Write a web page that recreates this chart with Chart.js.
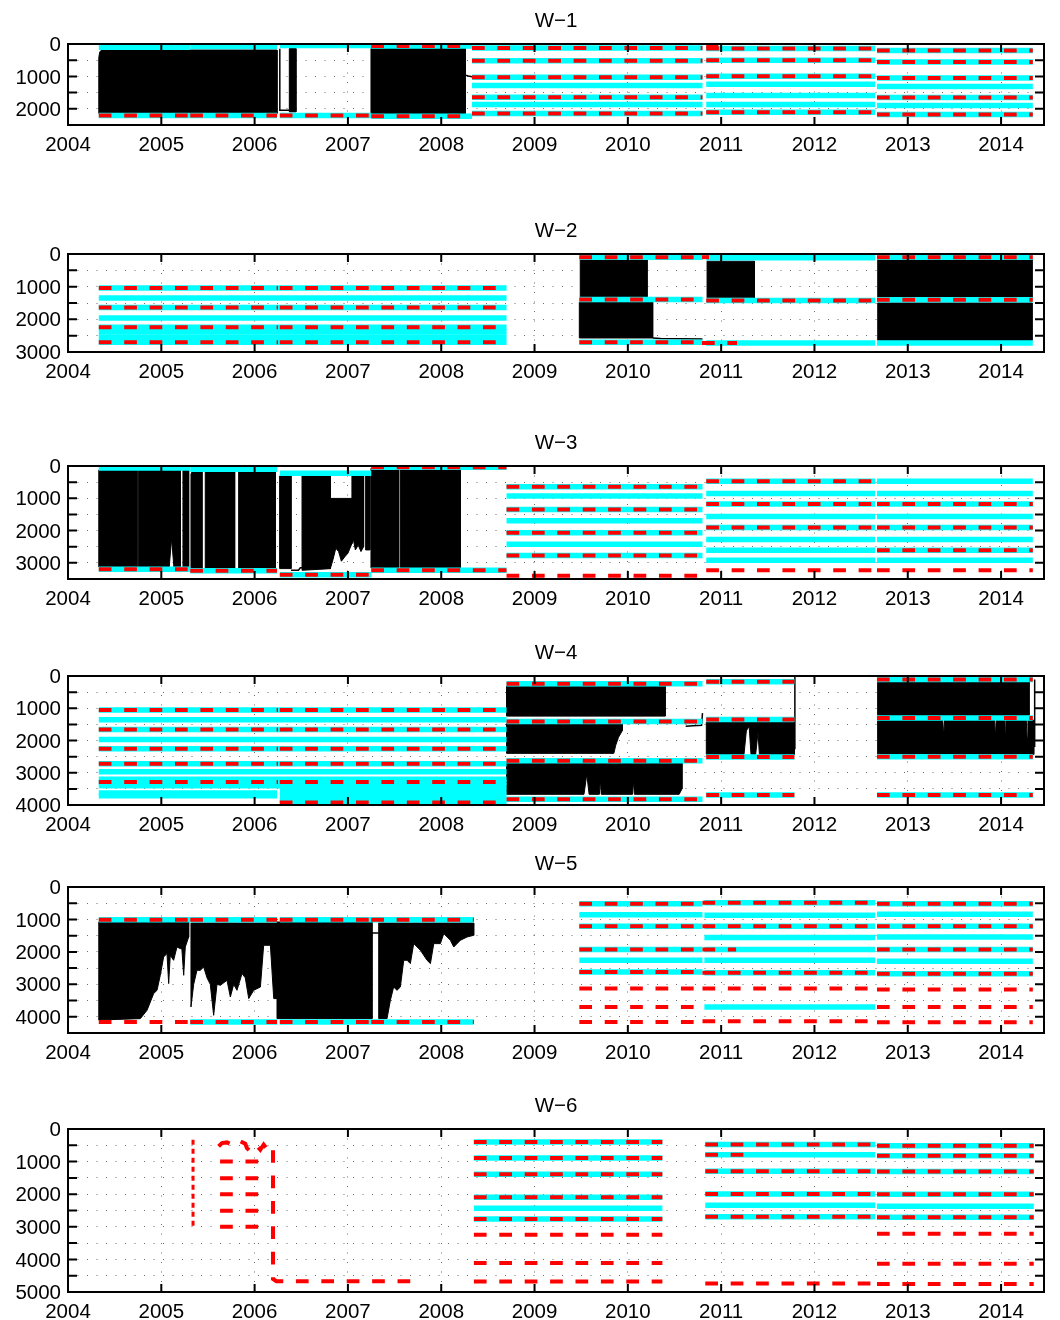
<!DOCTYPE html>
<html><head><meta charset="utf-8">
<script src="https://cdn.jsdelivr.net/npm/chart.js"></script>
<style>
html,body{margin:0;padding:0;background:#fff;}
body{width:1060px;height:1320px;position:relative;overflow:hidden;}
canvas{position:absolute;left:0;}
</style>
</head><body>
<script>
// ---------------- data ----------------
const TITLES = ['W\u22121','W\u22122','W\u22123','W\u22124','W\u22125','W\u22126'];
const YEAR_TICKS = [2004,2005,2006,2007,2008,2009,2010,2011,2012,2013,2014];
const X_MIN = 2004, X_MAX = 2014.46;
const DEPTH_MAX = [2500,3000,3500,4000,4500,5000];
const DEPTH_STEP = 500;

// segments: [startYear, endYear, depth]
const W1_CYAN = [
  [2004.33,2005.31,100],[2005.31,2006.24,80],[2006.27,2007.25,50],[2007.25,2008.33,60],
  [2004.33,2005.31,2208],[2005.31,2006.24,2208],[2006.27,2007.25,2208],[2007.25,2008.33,2228],
  [2008.33,2010.80,120],[2008.33,2010.80,520],[2008.33,2010.80,1025],[2008.33,2010.80,1281],
  [2008.33,2010.80,1642],[2008.33,2010.80,1868],[2008.33,2010.80,2145],
  [2010.84,2012.65,140],[2010.84,2012.65,500],[2010.84,2012.65,994],[2010.84,2012.65,1240],
  [2010.84,2012.65,1590],[2010.84,2012.65,1868],[2010.84,2012.65,2105],
  [2012.67,2014.34,200],[2012.67,2014.34,552],[2012.67,2014.34,1046],[2012.67,2014.34,1312],
  [2012.67,2014.34,1652],[2012.67,2014.34,1898],[2012.67,2014.34,2176]
];
const W1_RED = [
  [2007.25,2008.33,60],
  [2004.33,2005.31,2208],[2005.31,2006.24,2208],[2006.27,2007.25,2208],[2007.25,2008.33,2228],
  [2008.33,2010.80,120],[2008.33,2010.80,520],[2008.33,2010.80,1025],[2008.33,2010.80,1642],[2008.33,2010.80,2145],
  [2010.84,2010.97,50],
  [2010.84,2012.65,140],[2010.84,2012.65,500],[2010.84,2012.65,994],[2010.84,2012.65,2105],
  [2012.67,2014.34,200],[2012.67,2014.34,552],[2012.67,2014.34,1046],[2012.67,2014.34,1652],[2012.67,2014.34,2176]
];
// black filled records: polygons of [year, depth]
const W1_BLACK = [
  [[2004.33,2145],[2004.33,420],[2004.34,250],[2004.36,185],[2006.24,185],[2006.24,2145]],
  [[2006.372,2095],[2006.372,140],[2006.443,140],[2006.443,2095]],
  [[2007.247,2145],[2007.247,140],[2008.258,140],[2008.258,2145]]
];
const W1_TRACE = [
  [[2006.27,150],[2006.27,2046],[2006.372,2046]],
  [[2008.258,960],[2008.29,990],[2008.33,1010]]
];

const W2_CYAN = [
  [2004.33,2008.70,1037],[2004.33,2008.70,1344],[2004.33,2008.70,1641],[2004.33,2008.70,1957],
  [2004.33,2008.70,2240],[2004.33,2008.70,2390],[2004.33,2008.70,2545],[2004.33,2008.70,2700],
  [2009.48,2010.80,97],[2009.48,2010.80,1395],[2009.48,2010.80,2705],
  [2010.84,2012.65,117],[2010.84,2012.65,1426],[2010.84,2012.65,2725],
  [2012.67,2014.34,97],[2012.67,2014.34,1400],[2012.67,2014.34,2725]
];
const W2_RED = [
  [2004.33,2006.25,1037],[2006.27,2008.70,1037],[2004.33,2006.25,1641],[2006.27,2008.70,1641],
  [2004.33,2006.25,2245],[2006.27,2008.70,2245],[2004.33,2006.25,2705],[2006.27,2008.70,2705],
  [2009.48,2010.80,97],[2009.48,2010.80,1395],[2009.48,2010.80,2705],
  [2010.795,2010.87,97],[2010.84,2012.65,1426],[2010.795,2011.17,2725],
  [2012.67,2014.34,97],[2012.67,2014.34,1400]
];
const W2_BLACK = [
  [[2009.49,1313],[2009.49,170],[2010.206,170],[2010.206,1313]],
  [[2009.48,2571],[2009.48,1478],[2010.266,1478],[2010.266,2571]],
  [[2010.849,1343],[2010.849,220],[2011.356,220],[2011.356,1343]],
  [[2012.678,1343],[2012.678,169],[2014.332,169],[2014.332,1343]],
  [[2012.678,2644],[2012.678,1497],[2014.332,1497],[2014.332,2644]]
];
const W2_TRACE = [
  [[2010.266,2571],[2010.35,2590],[2010.80,2600]]
];

const W3_CYAN = [
  [2004.33,2005.31,62],[2005.31,2006.24,103],[2006.27,2007.25,228],[2007.25,2008.70,41],
  [2004.33,2005.31,3199],[2005.31,2006.24,3241],[2006.27,2007.25,3365],[2007.25,2008.70,3230],
  [2008.70,2010.80,642],[2008.70,2010.80,932],[2008.70,2010.80,1345],[2008.70,2010.80,1698],
  [2008.70,2010.80,2071],[2008.70,2010.80,2423],[2008.70,2010.80,2774],
  [2010.84,2012.65,476],[2010.84,2012.65,849],[2010.84,2012.65,1180],[2010.84,2012.65,1562],
  [2010.84,2012.65,1904],[2010.84,2012.65,2277],[2010.84,2012.65,2609],[2010.84,2012.65,2920],
  [2012.67,2014.34,476],[2012.67,2014.34,849],[2012.67,2014.34,1180],[2012.67,2014.34,1562],
  [2012.67,2014.34,1904],[2012.67,2014.34,2277],[2012.67,2014.34,2609],[2012.67,2014.34,2920]
];
const W3_RED = [
  [2004.33,2005.31,3199],[2005.31,2006.24,3241],[2006.27,2007.25,3365],[2007.25,2008.70,41],[2007.25,2008.70,3230],
  [2008.70,2010.80,642],[2008.70,2010.80,1345],[2008.70,2010.80,2071],[2008.70,2010.80,2774],[2008.70,2010.80,3396],
  [2010.84,2012.65,476],[2010.84,2012.65,1180],[2010.84,2012.65,1904],[2010.84,2012.65,3230],
  [2012.67,2014.34,1180],[2012.67,2014.34,1904],[2012.67,2014.34,2609],[2012.67,2014.34,3230]
];
const W3_BLACK = [
  [[2004.33,3127],[2004.33,124],[2004.74,124],[2004.74,3127]],
  [[2004.757,3127],[2004.757,124],[2005.204,124],[2005.204,3127],[2005.135,3127],[2005.11,2250],[2005.085,3127]],
  [[2005.232,3127],[2005.232,124],[2005.293,124],[2005.293,3127]],
  [[2005.318,3158],[2005.318,250],[2005.33,176],[2005.436,176],[2005.436,3158]],
  [[2005.471,3158],[2005.471,176],[2005.786,176],[2005.786,3158]],
  [[2005.829,3158],[2005.829,176],[2006.222,176],[2006.222,3158]],
  [[2006.268,3178],[2006.268,311],[2006.39,311],[2006.39,3178]],
  [[2006.508,3230],[2006.508,280],[2006.811,280],[2006.811,3180]],
  [[2006.811,1004],[2007.043,1004],[2007.043,2400],[2007.00,2700],[2006.97,2800],[2006.93,2950],[2006.90,2650],[2006.87,2550],[2006.84,2900],[2006.811,3180]],
  [[2007.043,280],[2007.168,280],[2007.168,2500],[2007.14,2650],[2007.11,2450],[2007.08,2600],[2007.06,2300],[2007.043,2400]],
  [[2007.19,300],[2007.235,300],[2007.235,2600],[2007.19,2600]],
  [[2007.247,3158],[2007.247,72],[2007.544,72],[2007.544,3158]],
  [[2007.562,3158],[2007.562,72],[2008.205,72],[2008.205,3158]]
];
const W3_TRACE = [
  [[2006.39,3230],[2006.47,3230],[2006.49,3150],[2006.508,3150]]
];

const W4_CYAN = [
  [2004.33,2008.70,1058],[2004.33,2008.70,1357],[2004.33,2008.70,1656],[2004.33,2008.70,1966],
  [2004.33,2008.70,2254],[2004.33,2008.70,2718],[2004.33,2008.70,2966],[2004.33,2008.70,3200],
  [2004.33,2008.70,3300],[2004.33,2008.70,3400],
  [2004.33,2006.24,3630],[2004.33,2006.24,3710],
  [2006.27,2008.70,3550],[2006.27,2008.70,3700],[2006.27,2008.70,3850],[2006.27,2008.70,3930],
  [2008.70,2010.80,243],[2008.70,2010.80,1409],[2008.70,2010.80,2626],[2008.70,2010.80,3823],
  [2010.84,2011.785,180],[2010.84,2011.785,1347],[2010.84,2011.785,2514],[2010.84,2011.785,3690],
  [2012.67,2014.34,108],[2012.67,2014.34,1306],[2012.67,2014.34,2502],[2012.67,2014.34,3690]
];
const W4_RED = [
  [2004.33,2006.25,1058],[2006.27,2008.70,1058],[2004.33,2006.25,1656],[2006.27,2008.70,1656],
  [2004.33,2006.25,2254],[2006.27,2008.70,2254],[2004.33,2006.25,2718],[2006.27,2008.70,2718],
  [2004.33,2006.25,3288],[2006.27,2008.70,3288],[2006.27,2008.70,3926],
  [2008.70,2010.80,243],[2008.70,2010.80,1409],[2008.70,2010.80,2626],[2008.70,2010.80,3823],
  [2010.84,2011.785,180],[2010.84,2011.785,1347],[2010.84,2011.785,2514],[2010.84,2011.785,3690],
  [2012.67,2014.34,108],[2012.67,2014.34,1306],[2012.67,2014.34,2502],[2012.67,2014.34,3690]
];
const W4_BLACK = [
  [[2008.70,1244],[2008.70,315],[2010.40,315],[2010.40,1244]],
  [[2008.70,2399],[2008.70,1471],[2009.94,1471],[2009.94,1700],[2009.90,1900],[2009.87,2150],[2009.85,2399]],
  [[2008.70,2688],[2010.58,2688],[2010.58,3500],[2010.55,3669],[2010.07,3669],[2010.06,3250],[2010.05,3669],
   [2009.715,3669],[2009.705,3200],[2009.695,3669],[2009.585,3669],[2009.56,3050],[2009.53,3669],[2008.70,3669]],
  [[2010.841,1430],[2011.785,1430],[2011.785,2430],[2011.41,2430],[2011.395,1750],[2011.37,2430],[2011.32,2430],
   [2011.30,1560],[2011.27,1700],[2011.245,2430],[2010.841,2430]],
  [[2012.677,180],[2014.30,180],[2014.30,1223],[2012.677,1223]],
  [[2012.677,1368],[2013.375,1368],[2013.385,1850],[2013.395,1368],[2013.70,1368],[2013.706,1800],[2013.712,1368],
   [2013.93,1368],[2013.939,1900],[2013.948,1368],[2014.04,1368],[2014.046,1800],[2014.052,1368],[2014.27,1368],
   [2014.279,1900],[2014.288,1368],[2014.35,1368],[2014.35,2430],[2012.677,2430]]
];
const W4_TRACE = [
  [[2011.79,0],[2011.79,2270]],
  [[2014.36,108],[2014.36,2200]],
  [[2010.62,1560],[2010.70,1545],[2010.79,1530],[2010.80,1150]]
];

const W5_CYAN = [
  [2004.33,2005.31,1006],[2005.31,2006.24,1006],[2006.27,2007.25,1006],[2007.25,2008.35,1006],
  [2005.31,2006.24,4160],[2006.27,2007.25,4160],[2007.25,2008.35,4160],
  [2009.48,2010.80,513],[2009.48,2010.80,852],[2009.48,2010.80,1211],[2009.48,2010.80,1930],
  [2009.48,2010.80,2259],[2009.48,2010.80,2620],
  [2010.82,2012.65,483],[2010.82,2012.65,872],[2010.82,2012.65,1211],[2010.82,2012.65,1560],
  [2010.82,2012.65,1930],[2010.82,2012.65,2259],[2010.82,2012.65,2640],[2010.82,2012.65,3698],
  [2012.67,2014.34,513],[2012.67,2014.34,842],[2012.67,2014.34,1211],[2012.67,2014.34,1540],
  [2012.67,2014.34,1930],[2012.67,2014.34,2290],[2012.67,2014.34,2670]
];
const W5_RED = [
  [2004.33,2005.31,1006],[2005.31,2006.24,1006],[2006.27,2007.25,1006],[2007.25,2008.35,1006],
  [2004.33,2005.31,4160],[2005.31,2006.24,4160],[2006.27,2007.25,4160],[2007.25,2008.35,4160],
  [2009.48,2010.80,513],[2009.48,2010.80,1211],[2009.48,2010.80,1930],[2009.48,2010.80,2620],
  [2009.48,2010.80,3132],[2009.48,2010.80,3698],[2009.48,2010.80,4160],
  [2010.80,2012.65,483],[2010.80,2012.65,1211],[2010.80,2011.16,1930],[2010.80,2012.65,2640],
  [2010.80,2012.65,3132],[2010.80,2012.65,4140],
  [2012.67,2014.34,513],[2012.67,2014.34,1211],[2012.67,2014.34,1930],[2012.67,2014.34,2670],
  [2012.67,2014.34,3163],[2012.67,2014.34,3698],[2012.67,2014.34,4170]
];
const W5_BLACK = [
  [[2004.33,1078],[2005.293,1078],[2005.293,1541],[2005.257,1849],[2005.24,2721],[2005.22,1900],[2005.204,1900],
   [2005.168,1849],[2005.132,2259],[2005.096,2105],[2005.079,2977],[2005.061,2053],[2005.025,2157],[2004.989,2721],
   [2004.954,3184],[2004.918,3285],[2004.847,3800],[2004.775,4057],[2004.33,4100]],
  [[2005.318,1109],[2006.24,1109],[2006.24,3440],[2006.205,3440],[2006.169,1797],[2006.097,1797],[2006.062,3082],
   [2005.99,3184],[2005.937,3440],[2005.90,2800],[2005.865,2669],[2005.811,3184],[2005.776,3000],[2005.740,3390],
   [2005.704,2876],[2005.633,3030],[2005.597,3000],[2005.561,3954],[2005.525,3000],[2005.490,2800],[2005.454,2466],
   [2005.418,2567],[2005.382,2567],[2005.347,3000],[2005.318,3698]],
  [[2006.24,1078],[2007.258,1078],[2007.258,4057],[2006.24,4057]],
  [[2007.33,1109],[2008.348,1109],[2008.348,1489],[2008.277,1541],[2008.205,1643],[2008.134,1849],[2008.098,1643],
   [2008.027,1437],[2007.991,1745],[2007.920,1745],[2007.884,2361],[2007.848,2259],[2007.777,1951],[2007.705,1745],
   [2007.669,2361],[2007.634,2259],[2007.598,2259],[2007.562,3082],[2007.526,3184],[2007.490,3082],[2007.455,3492],
   [2007.419,4057],[2007.33,4057]]
];
const W5_TRACE = [
  [[2007.258,1418],[2007.33,1418]]
];

const W6_CYAN = [
  [2008.35,2010.37,400],[2008.35,2010.37,892],[2008.35,2010.37,1385],[2008.35,2010.37,2092],
  [2008.35,2010.37,2431],[2008.35,2010.37,2760],
  [2010.83,2012.65,473],[2010.83,2012.65,790],[2010.83,2012.65,1293],[2010.83,2012.65,1991],
  [2010.83,2012.65,2339],[2010.83,2012.65,2689],
  [2012.67,2014.35,514],[2012.67,2014.35,822],[2012.67,2014.35,1304],[2012.67,2014.35,2000],
  [2012.67,2014.35,2369],[2012.67,2014.35,2708]
];
const W6_RED = [
  [2005.63,2006.04,997],[2005.63,2006.04,1508],[2005.63,2006.04,2000],[2005.63,2006.04,2505],[2005.63,2006.04,2997],
  [2008.35,2010.37,400],[2008.35,2010.37,892],[2008.35,2010.37,1385],[2008.35,2010.37,2092],[2008.35,2010.37,2760],
  [2008.35,2010.37,3243],[2008.35,2010.37,4114],[2008.35,2010.37,4677],
  [2010.83,2012.65,473],[2010.83,2011.24,790],[2010.83,2012.65,1293],[2010.83,2012.65,1991],[2010.83,2012.65,2689],
  [2010.83,2012.65,4739],
  [2012.67,2014.35,514],[2012.67,2014.35,822],[2012.67,2014.35,1304],[2012.67,2014.35,2000],[2012.67,2014.35,2708],
  [2012.67,2014.35,3212],[2012.67,2014.35,4135],[2012.67,2014.35,4751]
];
// red dashed traces (time series of a sensor depth)
const W6_RED_TRACE = [
  [[2005.614,534],[2005.650,432],[2005.704,411],[2005.757,483],[2005.793,380],[2005.847,380],[2005.900,452],
   [2005.918,586],[2005.954,688],[2005.990,586],[2006.025,514],[2006.061,637],[2006.097,483],[2006.133,616],
   [2006.168,514],[2006.197,555],[2006.197,4600],[2006.233,4668],[2007.669,4668]]
];
const W6_DOT_TRACE = [
  [[2005.34,329],[2005.34,3046]]
];

// ---------------- drawing ----------------
const PANELS = [
  {cyan:W1_CYAN, red:W1_RED, black:W1_BLACK, trace:W1_TRACE, redTrace:[], dotTrace:[]},
  {cyan:W2_CYAN, red:W2_RED, black:W2_BLACK, trace:W2_TRACE, redTrace:[], dotTrace:[]},
  {cyan:W3_CYAN, red:W3_RED, black:W3_BLACK, trace:W3_TRACE, redTrace:[], dotTrace:[]},
  {cyan:W4_CYAN, red:W4_RED, black:W4_BLACK, trace:W4_TRACE, redTrace:[], dotTrace:[]},
  {cyan:W5_CYAN, red:W5_RED, black:W5_BLACK, trace:W5_TRACE, redTrace:[], dotTrace:[]},
  {cyan:W6_CYAN, red:W6_RED, black:[], trace:[], redTrace:W6_RED_TRACE, dotTrace:W6_DOT_TRACE}
];
const PLOT_TOP = [44,254,466,676,887,1129];
const PLOT_H = [81,98,113,129,146,163];
const HEADER = 40, FOOTER = 35, LEFT = 68, RIGHT_PAD = 16;
const FONT = "'Liberation Sans', Arial, Helvetica, sans-serif";
const FSIZE = 20.5;
const CYAN = '#00FFFF', RED = '#FF0000', BLACK = '#000000';
const GRID = 'rgba(60,60,60,0.75)';
const DASH = [12.7,12.7];

Chart.defaults.font.family = FONT;
Chart.defaults.color = '#000';

const hline = ([a,b,d]) => [{x:a,y:d},{x:b,y:d}];
const pts = arr => arr.map(([x,y]) => ({x, y}));
const closed = arr => pts(arr.concat([arr[0]]));

const boxPlugin = {
  id: 'matlabBox',
  afterDraw(chart) {
    const {ctx, chartArea: a, scales: {x, y}} = chart;
    ctx.save();
    ctx.strokeStyle = '#000';
    ctx.lineWidth = 2;
    ctx.beginPath();
    x.ticks.forEach(t => {
      const px = x.getPixelForValue(t.value);
      ctx.moveTo(px, a.bottom); ctx.lineTo(px, a.bottom - 8);
      ctx.moveTo(px, a.top); ctx.lineTo(px, a.top + 8);
    });
    y.ticks.forEach(t => {
      const py = y.getPixelForValue(t.value);
      ctx.moveTo(a.left, py); ctx.lineTo(a.left + 9, py);
      ctx.moveTo(a.right, py); ctx.lineTo(a.right - 9, py);
    });
    ctx.stroke();
    ctx.strokeRect(a.left, a.top, a.right - a.left, a.bottom - a.top);
    ctx.restore();
  }
};

PANELS.forEach((p, i) => {
  const h = PLOT_H[i];
  const cv = document.createElement('canvas');
  const H = h + HEADER + FOOTER;
  cv.width = 1060; cv.height = H;
  cv.style.width = '1060px'; cv.style.height = H + 'px';
  cv.style.top = (PLOT_TOP[i] - HEADER) + 'px';
  document.body.appendChild(cv);

  const datasets = [];
  p.black.forEach(poly => datasets.push({data: closed(poly), borderColor: BLACK, backgroundColor: BLACK,
    borderWidth: 1, fill: 'shape', order: 3}));
  p.trace.forEach(t => datasets.push({data: pts(t), borderColor: BLACK, borderWidth: 1.5, order: 3}));
  p.cyan.forEach(s => datasets.push({data: hline(s), borderColor: CYAN, borderWidth: 5.5, order: 2}));
  p.red.forEach(s => datasets.push({data: hline(s), borderColor: RED, borderWidth: 4, borderDash: DASH, order: 1}));
  p.redTrace.forEach(t => datasets.push({data: pts(t), borderColor: RED, borderWidth: 4, borderDash: DASH, order: 1}));
  p.dotTrace.forEach(t => datasets.push({data: pts(t), borderColor: RED, borderWidth: 3, borderDash: [5,4], order: 1}));

  const yTicks = [];
  for (let v = 0; v <= DEPTH_MAX[i]; v += DEPTH_STEP) yTicks.push(v);

  new Chart(cv, {
    type: 'line',
    data: {datasets},
    options: {
      responsive: false, animation: false, devicePixelRatio: 1,
      events: [],
      elements: {point: {radius: 0, hoverRadius: 0}, line: {tension: 0, borderCapStyle: 'butt'}},
      layout: {padding: {left: 0, right: RIGHT_PAD, top: 0, bottom: 0}},
      plugins: {
        legend: {display: false},
        tooltip: {enabled: false},
        title: {display: true, text: TITLES[i], fullSize: false, color: '#000',
          font: {family: FONT, size: FSIZE, weight: 'normal'}, padding: {top: 4.7, bottom: 10.7}}
      },
      scales: {
        x: {
          type: 'linear', min: X_MIN, max: X_MAX,
          afterBuildTicks: s => { s.ticks = YEAR_TICKS.map(v => ({value: v})); },
          afterFit: s => { s.height = FOOTER; },
          grid: {color: GRID, lineWidth: 1, drawTicks: false},
          border: {display: false, dash: [1, 8.5]},
          ticks: {color: '#000', font: {family: FONT, size: FSIZE}, padding: 8.5, maxRotation: 0, minRotation: 0,
            autoSkip: false, callback: v => String(v)}
        },
        y: {
          type: 'linear', reverse: true, min: 0, max: DEPTH_MAX[i],
          afterBuildTicks: s => { s.ticks = yTicks.map(v => ({value: v})); },
          afterFit: s => { s.width = LEFT; },
          grid: {color: GRID, lineWidth: 1, drawTicks: false},
          border: {display: false, dash: [1, 8.5]},
          ticks: {color: '#000', font: {family: FONT, size: FSIZE}, padding: 7, autoSkip: false, labelOffset: 1.5,
            callback: v => (v % 1000 === 0 ? String(v) : '')}
        }
      }
    },
    plugins: [boxPlugin]
  });
});
</script>
</body></html>
